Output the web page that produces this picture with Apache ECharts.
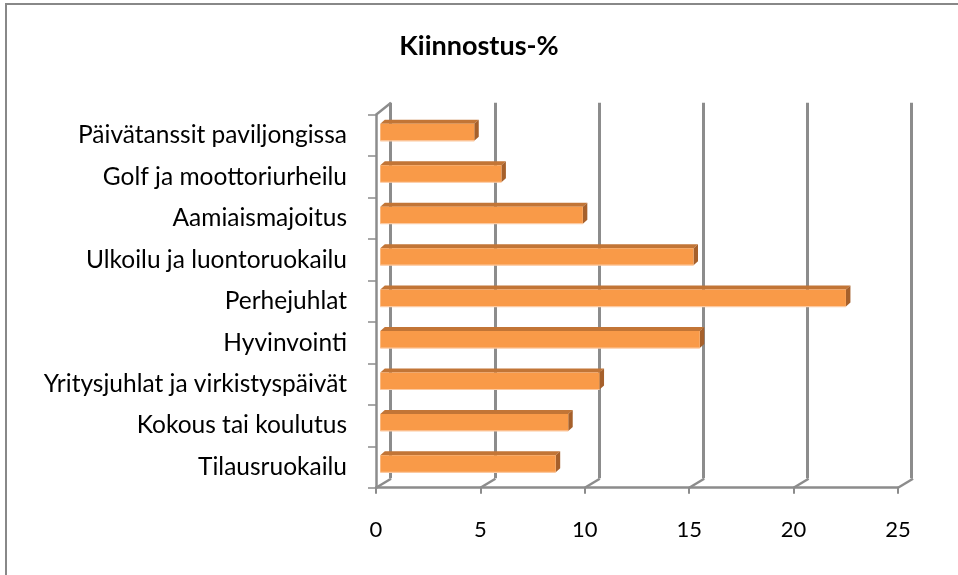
<!DOCTYPE html>
<html>
<head>
<meta charset="utf-8">
<script src="https://cdn.jsdelivr.net/npm/echarts@6/dist/echarts.min.js"></script>
<style>
html,body{margin:0;padding:0;background:#fff;}
#chart{width:958px;height:575px;}
</style>
</head>
<body>
<div id="chart"></div>
<script>
var titleText = 'Kiinnostus-%';
var categories = [
  'Päivätanssit paviljongissa',
  'Golf ja moottoriurheilu',
  'Aamiaismajoitus',
  'Ulkoilu ja luontoruokailu',
  'Perhejuhlat',
  'Hyvinvointi',
  'Yritysjuhlat ja virkistyspäivät',
  'Kokous tai koulutus',
  'Tilausruokailu'
];
var values = [4.5, 5.8, 9.7, 15.0, 22.3, 15.3, 10.5, 9.0, 8.4];
var tickValues = [0, 5, 10, 15, 20, 25];

var FONT = 'Lato, "Liberation Sans", sans-serif';
var GRID_COLOR = '#8c8c8c';
var chart = echarts.init(document.getElementById('chart'));

function barItem(params, api) {
  var i = api.value(0);
  var v = api.value(1);
  var s = api.coord([0, i]);
  var e = api.coord([v, i]);
  var band = api.size([0, 1])[1];
  var off = 4.3;
  var x0 = s[0] + off, x1 = e[0] + off;
  var yTop = s[1] - band * 0.28;
  var yBot = s[1] + band * 0.13;
  var dx = 4.5, dy = -4;
  return {
    type: 'group',
    children: [
      {type: 'polygon', shape: {points: [[x0, yTop], [x0 + dx, yTop + dy], [x1 + dx, yTop + dy], [x1, yTop]]},
       style: {fill: '#C27536', stroke: null}},
      {type: 'polygon', shape: {points: [[x1, yTop], [x1 + dx, yTop + dy], [x1 + dx, yBot + dy], [x1, yBot]]},
       style: {fill: '#A6602B', stroke: null}},
      {type: 'rect', shape: {x: x0, y: yTop, width: x1 - x0, height: yBot - yTop},
       style: {fill: '#F99A48', stroke: null}},
      {type: 'line', shape: {x1: x0, y1: yBot, x2: x1, y2: yBot},
       style: {stroke: '#FCC9A0', lineWidth: 1.2}}
    ]
  };
}

function diagItem(params, api) {
  var v = api.value(0);
  var cs = params.coordSys;
  var p = api.coord([v, 0]);
  var yb = cs.y + cs.height;
  var children = [
    {type: 'line', shape: {x1: p[0], y1: yb, x2: p[0] + 15, y2: yb - 9},
     style: {stroke: GRID_COLOR, lineWidth: 2.5}}
  ];
  if (v === 0) {
    children.push({type: 'line', shape: {x1: cs.x, y1: cs.y, x2: cs.x + 15, y2: cs.y - 12},
      style: {stroke: GRID_COLOR, lineWidth: 2.5}});
  }
  return {type: 'group', children: children};
}

var option = {
  backgroundColor: '#fff',
  animation: false,
  title: {
    text: titleText, left: 'center', top: 28,
    textStyle: {fontFamily: FONT, fontSize: 27, fontWeight: 'bold', color: '#000'}
  },
  graphic: [
    {type: 'rect', shape: {x: 6, y: 4, width: 1200, height: 1000},
     style: {fill: 'none', stroke: '#888', lineWidth: 2}, z: 100, silent: true}
  ],
  grid: [
    {left: 376, top: 114.7, width: 522, height: 373},
    {left: 390.7, top: 102.7, width: 521, height: 375.6}
  ],
  xAxis: [
    {type: 'value', gridIndex: 0, min: 0, max: 25, interval: 5,
     axisLine: {show: true, lineStyle: {color: GRID_COLOR, width: 2.5}},
     axisTick: {show: true, length: 6, lineStyle: {color: GRID_COLOR, width: 2}},
     splitLine: {show: false},
     axisLabel: {margin: 31, fontFamily: FONT, fontSize: 22, color: '#000'}},
    {type: 'value', gridIndex: 1, min: 0, max: 25, interval: 5,
     axisLine: {show: false}, axisTick: {show: false}, axisLabel: {show: false},
     splitLine: {show: true, lineStyle: {color: GRID_COLOR, width: 3}}}
  ],
  yAxis: [
    {type: 'category', gridIndex: 0, data: categories, inverse: true,
     axisLine: {show: true, lineStyle: {color: GRID_COLOR, width: 2.5}},
     axisTick: {show: true, length: 8, lineStyle: {color: GRID_COLOR, width: 1.5}},
     axisLabel: {margin: 29, fontFamily: FONT, fontSize: 24.5, color: '#000'}},
    {type: 'value', gridIndex: 1, show: false, min: 0, max: 1}
  ],
  series: [
    {type: 'custom', xAxisIndex: 0, yAxisIndex: 0, renderItem: diagItem,
     data: tickValues.map(function (t) { return [t]; }), z: 3, silent: true},
    {type: 'custom', xAxisIndex: 0, yAxisIndex: 0, renderItem: barItem,
     encode: {x: 1, y: 0},
     data: values.map(function (v, i) { return [i, v]; }), z: 5, silent: true}
  ]
};
chart.setOption(option);
</script>
</body>
</html>
